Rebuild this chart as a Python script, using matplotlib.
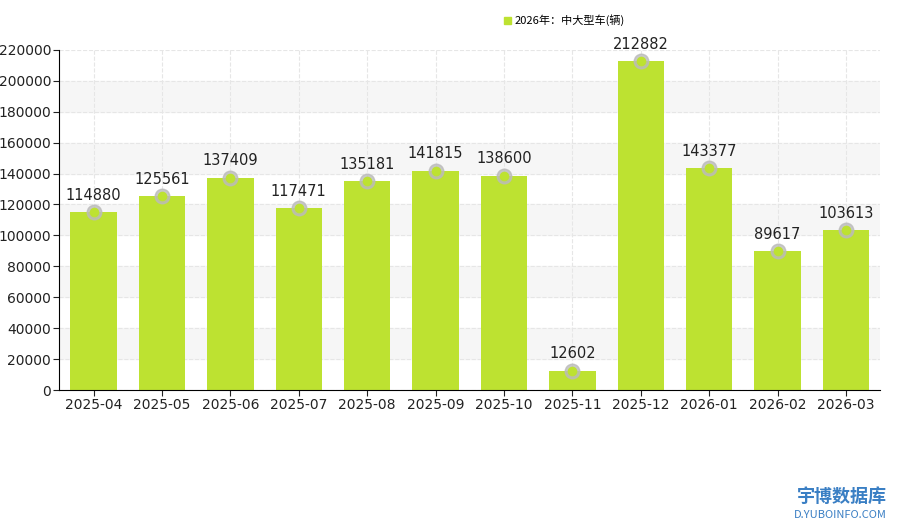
import numpy as np
import matplotlib.pyplot as plt

plt.rcParams["font.family"] = ["Noto Sans CJK SC", "DejaVu Sans"]

months = ["2025-04", "2025-05", "2025-06", "2025-07", "2025-08", "2025-09",
          "2025-10", "2025-11", "2025-12", "2026-01", "2026-02", "2026-03"]
sales = [114880, 125561, 137409, 117471, 135181, 141815,
         138600, 12602, 212882, 143377, 89617, 103613]
series_name = "2026年：中大型车(辆)"

green = "#bde231"

fig = plt.figure(figsize=(9, 5.3), dpi=100)
ax = fig.add_axes([0.066, 0.264, 0.912, 0.642])

# alternating horizontal bands
for lo in range(20000, 220000, 40000):
    ax.axhspan(lo, lo + 20000, color="#f6f6f6", zorder=0)

x = np.arange(len(months))
ax.bar(x, sales, width=0.68, color=green, zorder=2)
ax.scatter(x, sales, s=110, color="#bbbbbb", alpha=0.8, zorder=3)
ax.scatter(x, sales, s=35, color=green, zorder=4)
for xi, v in zip(x, sales):
    ax.text(xi, v + 6000, str(v), ha="center", va="bottom", fontsize=10.5,
            color="#222222", family="DejaVu Sans", zorder=5)

ax.set_xlim(-0.5, len(months) - 0.5)
ax.set_ylim(0, 220000)
ax.set_yticks(range(0, 220001, 20000))
ax.set_xticks(x)
ax.set_xticklabels(months, family="DejaVu Sans")
ax.tick_params(axis="both", labelsize=10, colors="#222222", length=4, pad=2)
for lbl in ax.get_yticklabels():
    lbl.set_family("DejaVu Sans")
ax.grid(True, linestyle="--", color="#e6e6e6", linewidth=0.8, zorder=1)
ax.set_axisbelow(True)
for s in ["top", "right"]:
    ax.spines[s].set_visible(False)

ax.legend([plt.Rectangle((0, 0), 1, 1, color=green)], [series_name],
          loc="lower left", bbox_to_anchor=(0.53, 1.04), frameon=False,
          fontsize=8, handlelength=0.6, handleheight=0.6, handletextpad=0.3)

fig.text(0.985, 0.045, "宇博数据库", ha="right", va="bottom", fontsize=13,
         color="#3a7fc4", fontweight="bold")
fig.text(0.985, 0.018, "D.YUBOINFO.COM", ha="right", va="bottom", fontsize=8,
         color="#3a7fc4")

fig.savefig("out.png", dpi=100)
